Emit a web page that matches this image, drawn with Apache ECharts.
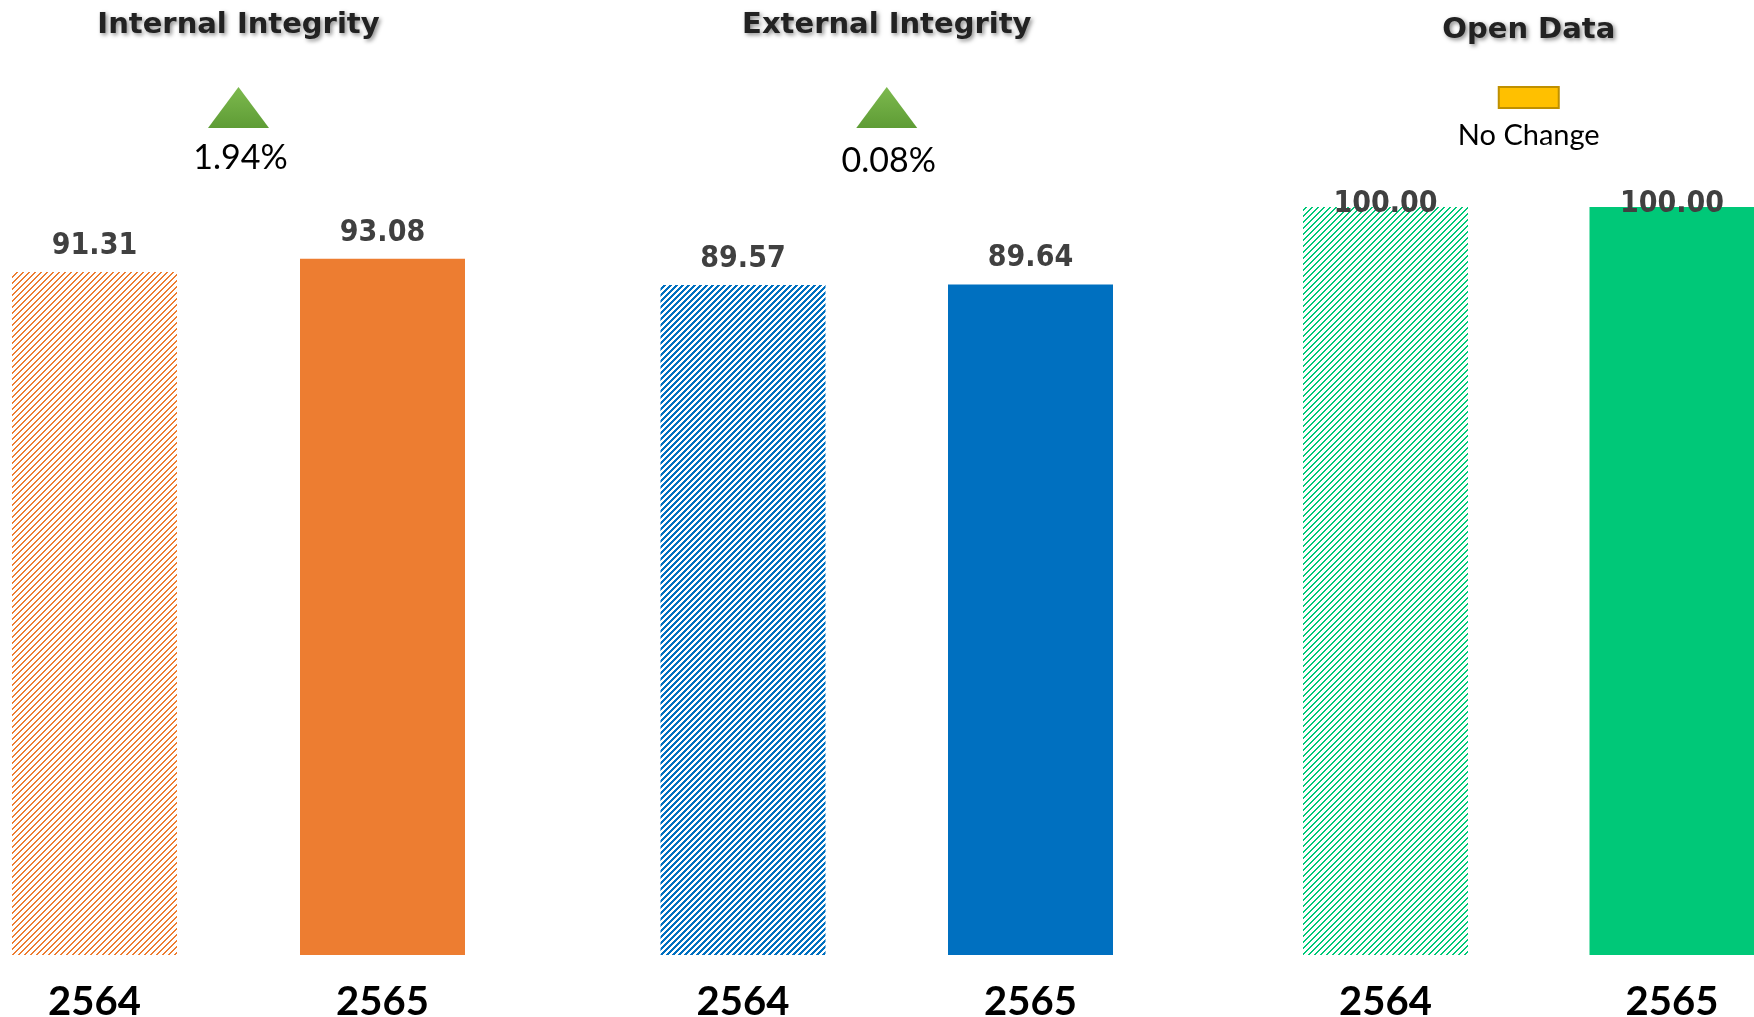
<!DOCTYPE html>
<html><head><meta charset="utf-8">
<script src="https://cdn.jsdelivr.net/npm/echarts@6/dist/echarts.min.js"></script>
<style>html,body{margin:0;padding:0;background:#fff}#c{width:1754px;height:1017px}</style>
</head><body><div id="c"></div>
<script>
// ---- data ----
const groupTitles = ['Internal Integrity', 'External Integrity', 'Open Data'];
const years = ['2564', '2565'];
const internalValues = [91.31, 93.08];
const externalValues = [89.57, 89.64];
const openDataValues = [100.00, 100.00];

// ---- styles / layout ----
const groupValues = [internalValues, externalValues, openDataValues];
const groupColors = ['#ED7D31', '#0070C0', '#00C878'];
const hatchSpec = [[6, 2], [6, 3], [6, 2]];
const gridLefts = [94.5, 743, 1385.5];
const gridWidths = [288, 287.5, 286.5];
const gridTop = 207, gridBottom = 62;
const titleY = [25, 25, 30];
const labelDist = [11, 11, -12];
const pctY = [158, 161, 158];

function hatch(color, n, t) {
  const c = document.createElement('canvas');
  c.width = n; c.height = n;
  const ctx = c.getContext('2d');
  ctx.fillStyle = '#ffffff'; ctx.fillRect(0, 0, n, n);
  ctx.fillStyle = color;
  for (let x = 0; x < n; x++) for (let y = 0; y < n; y++) {
    if (((x + y) % n) < t) ctx.fillRect(x, y, 1, 1);
  }
  return c;
}

const grids = [], xAxes = [], yAxes = [], series = [], graphics = [];
groupValues.forEach((vals, g) => {
  grids.push({ left: gridLefts[g], width: gridWidths[g], top: gridTop, bottom: gridBottom, containLabel: false, outerBoundsMode: 'none' });
  xAxes.push({
    type: 'category', gridIndex: g, data: years, boundaryGap: false,
    axisLine: { show: false }, axisTick: { show: false }, splitLine: { show: false },
    axisLabel: { fontFamily: 'Lato', fontWeight: 'bold', fontSize: 40, color: '#000', margin: 27, interval: 0 }
  });
  yAxes.push({ type: 'value', gridIndex: g, min: 0, max: 100, show: false, splitLine: { show: false } });
  const pat = hatch(groupColors[g], hatchSpec[g][0], hatchSpec[g][1]);
  series.push({
    type: 'bar', xAxisIndex: g, yAxisIndex: g, barWidth: 165, clip: false,
    data: vals.map((v, i) => ({
      value: v,
      itemStyle: { color: i === 0 ? { image: pat, repeat: 'repeat' } : groupColors[g] }
    })),
    label: {
      show: true, position: 'top', distance: labelDist[g],
      fontFamily: "'DejaVu Sans Condensed', 'DejaVu Sans', sans-serif", fontWeight: 'bold', fontSize: 30,
      color: '#404040', formatter: p => Number(p.value).toFixed(2)
    },
    emphasis: { disabled: true }
  });

  const cx = gridLefts[g] + gridWidths[g] / 2;
  graphics.push({
    type: 'text', x: cx, y: titleY[g], silent: true,
    style: {
      text: groupTitles[g], fill: '#222222', align: 'center', verticalAlign: 'middle',
      font: "bold 29px 'DejaVu Sans', sans-serif",
      textShadowColor: 'rgba(0,0,0,0.45)', textShadowBlur: 4, textShadowOffsetX: 2, textShadowOffsetY: 2
    }
  });
  const change = (vals[1] - vals[0]) / vals[0] * 100;
  if (Math.abs(change) < 0.005) {
    graphics.push({
      type: 'rect', silent: true,
      shape: { x: cx - 30, y: 87, width: 60, height: 21 },
      style: { fill: '#FFC000', stroke: '#BF9000', lineWidth: 2 }
    });
    graphics.push({
      type: 'text', x: cx, y: 136, silent: true,
      style: { text: 'No Change', fill: '#000', align: 'center', verticalAlign: 'middle', font: "29px Lato, sans-serif" }
    });
  } else {
    const up = change > 0;
    graphics.push({
      type: 'polygon', silent: true,
      shape: { points: up ? [[cx, 87], [cx + 30.5, 128], [cx - 30.5, 128]] : [[cx, 128], [cx + 30.5, 87], [cx - 30.5, 87]] },
      style: {
        fill: new echarts.graphic.LinearGradient(0, 0, 0, 1, [
          { offset: 0, color: up ? '#7DB94E' : '#E06060' }, { offset: 1, color: up ? '#5E9C35' : '#C00000' }
        ])
      }
    });
    graphics.push({
      type: 'text', x: cx + 2, y: pctY[g], silent: true,
      style: { text: Math.abs(change).toFixed(2) + '%', fill: '#000', align: 'center', verticalAlign: 'middle', font: "34px Lato, sans-serif" }
    });
  }
});

const chart = echarts.init(document.getElementById('c'));
chart.setOption({
  animation: false,
  backgroundColor: '#ffffff',
  grid: grids, xAxis: xAxes, yAxis: yAxes, series: series,
  graphic: { elements: graphics }
});
</script></body></html>
